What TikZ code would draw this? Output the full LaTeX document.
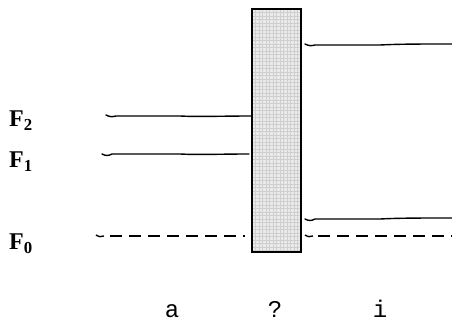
\documentclass[tikz,border=0pt]{standalone}
\usepackage{fontspec}
\setmainfont{Liberation Serif}
\newfontfamily\monofnt{Liberation Mono}
\begin{document}
\begin{tikzpicture}[x=1pt,y=-1pt,
  level/.style={line width=1.4pt,line cap=round},
  dlevel/.style={line width=1.4pt,dash pattern=on 12pt off 7pt},
  gridline/.style={gray!38,line width=0.3pt},
  flab/.style={font=\fontsize{24}{24}\selectfont\bfseries,anchor=west,inner sep=0pt},
  rlab/.style={font=\monofnt\fontsize{24}{24}\selectfont,anchor=base,inner sep=0pt}]
\useasboundingbox (0,0) rectangle (452,320);
% barrier
\fill[gray!16] (252,9) rectangle (301,252);
\foreach \xx in {255.5,259,...,300} \draw[gridline] (\xx,9) -- (\xx,252);
\foreach \yy in {12.5,16,...,251} \draw[gridline] (252,\yy) -- (301,\yy);
\draw[line width=2pt] (252,9) rectangle (301,252);
% left levels
\draw[level] (106,115) .. controls (110,117) and (112,117) .. (116,116) -- (180,116) .. controls (200,117) and (220,116) .. (252,116);
\draw[level] (102,154) .. controls (106,156) and (108,156) .. (112,154) -- (180,154) .. controls (200,155) and (220,154) .. (249,154);
\draw[line width=1.4pt] (96,235) .. controls (99,237) and (101,237) .. (104,236);
\draw[dlevel] (110,236) -- (245,236);
% right levels
\draw[level] (305,44) .. controls (309,46) and (311,46) .. (315,45) -- (380,45) .. controls (400,44) and (420,44) .. (452,44);
\draw[level] (305,219) .. controls (309,221) and (311,221) .. (315,219) -- (380,219) .. controls (400,218) and (420,218) .. (452,218);
\draw[line width=1.4pt] (305,235) .. controls (308,237) and (310,237) .. (313,236);
\draw[dlevel] (318,236) -- (452,236);
% labels
\node[flab] (f2) at (9,121) {F\textsubscript{2}};
\node[flab] (f1) at (9,162) {F\textsubscript{1}};
\node[flab] (f0) at (9,244) {F\textsubscript{0}};
\node[rlab] (la) at (172,317) {a};
\node[rlab] (lq) at (275,317) {?};
\node[rlab] (li) at (380,317) {i};
\end{tikzpicture}
\end{document}
